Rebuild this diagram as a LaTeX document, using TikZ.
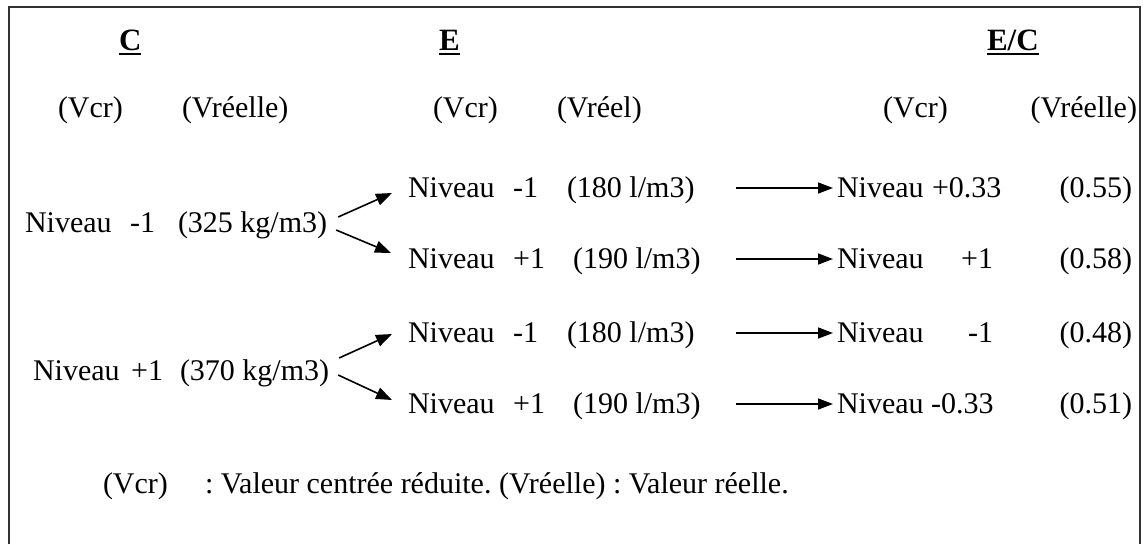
\documentclass[tikz,border=0pt]{standalone}
\usepackage{fontspec}
\setmainfont{Liberation Serif}
\usetikzlibrary{arrows.meta,calc}
\begin{document}
\frenchspacing
\begin{tikzpicture}[x=1pt,y=-1pt,
  txt/.style={inner sep=0pt,outer sep=0pt,anchor=base west,font=\fontsize{30}{36}\selectfont},
  txtr/.style={txt,anchor=base east},
  head/.style={txt,font=\fontsize{31}{36}\selectfont\bfseries},
  uline/.style={line width=2.6pt},
  link/.style={line width=1.6pt,-{Triangle[length=16pt,width=12pt]}},
  flow/.style={line width=1.6pt,-{Triangle[length=15pt,width=11pt]}}]
\useasboundingbox (0,0) rectangle (1147,544);
% frame (open at the bottom)
\draw[line width=1.5pt,draw=black!80] (9,544) -- (9,7) -- (1140,7) -- (1140,544);

% column headings
\node[head] (hC)  at (119,50) {C};
\node[head] (hE)  at (439,50) {E};
\node[head] (hEC) at (987,50) {E/C};
\foreach \h in {hC,hE,hEC}
  \draw[uline] ($(\h.base west)+(0,4)$) -- ($(\h.base east)+(0,4)$);

% sub-headings
\node[txt]  (sC1)  at (58,117)   {(Vcr)};
\node[txt]  (sC2)  at (182,117)  {(Vréelle)};
\node[txt]  (sE1)  at (433,117)  {(Vcr)};
\node[txt]  (sE2)  at (557,117)  {(Vréel)};
\node[txt]  (sEC1) at (883,117)  {(Vcr)};
\node[txtr] (sEC2) at (1137,117) {(Vréelle)};

% C levels
\node[txt]  (c1n) at (25,232)  {Niveau};
\node[txtr] (c1l) at (155,232) {-1};
\node[txt]  (c1v) at (178,232) {(325 kg/m3)};
\node[txt]  (c2n) at (33,380)  {Niveau};
\node[txtr] (c2l) at (163,380) {+1};
\node[txt]  (c2v) at (180,380) {(370 kg/m3)};

% E levels
\node[txt]  (e1n) at (408,197) {Niveau};
\node[txtr] (e1l) at (538,197) {-1};
\node[txt]  (e1v) at (567,197) {(180 l/m3)};
\node[txt]  (e2n) at (408,268) {Niveau};
\node[txtr] (e2l) at (545,268) {+1};
\node[txt]  (e2v) at (573,268) {(190 l/m3)};
\node[txt]  (e3n) at (408,342) {Niveau};
\node[txtr] (e3l) at (538,342) {-1};
\node[txt]  (e3v) at (567,342) {(180 l/m3)};
\node[txt]  (e4n) at (408,413) {Niveau};
\node[txtr] (e4l) at (545,413) {+1};
\node[txt]  (e4v) at (573,413) {(190 l/m3)};

% E/C levels
\node[txt]  (r1n) at (837,197)  {Niveau};
\node[txt]  (r1l) at (932,197)  {+0.33};
\node[txtr] (r1v) at (1132,197) {(0.55)};
\node[txt]  (r2n) at (837,268)  {Niveau};
\node[txtr] (r2l) at (993,268)  {+1};
\node[txtr] (r2v) at (1132,268) {(0.58)};
\node[txt]  (r3n) at (837,342)  {Niveau};
\node[txtr] (r3l) at (993,342)  {-1};
\node[txtr] (r3v) at (1132,342) {(0.48)};
\node[txt]  (r4n) at (837,413)  {Niveau};
\node[txt]  (r4l) at (931,413)  {-0.33};
\node[txtr] (r4v) at (1132,413) {(0.51)};

% branching arrows C -> E
\draw[link] ($(c1v.base east)+(11,-15)$) -- ($(e1n.base west)+(-16,-4)$);
\draw[link] ($(c1v.base east)+(9,-2)$)   -- ($(e2n.base west)+(-17,-15)$);
\draw[link] ($(c2v.base east)+(10,-22)$) -- ($(e3n.base west)+(-16,-8)$);
\draw[link] ($(c2v.base east)+(9,-5)$)   -- ($(e4n.base west)+(-16,-13)$);

% arrows E -> E/C
\foreach \i in {1,2,3,4}
  \draw[flow] ($(r\i n.base west)+(-101,-9)$) -- ($(r\i n.base west)+(-4,-9)$);

% legend
\node[txt] (k1) at (103,493) {(Vcr)};
\node[txt] (k2) at (205,493) {: Valeur centrée réduite. (Vréelle) : Valeur réelle.};
\end{tikzpicture}
\end{document}
